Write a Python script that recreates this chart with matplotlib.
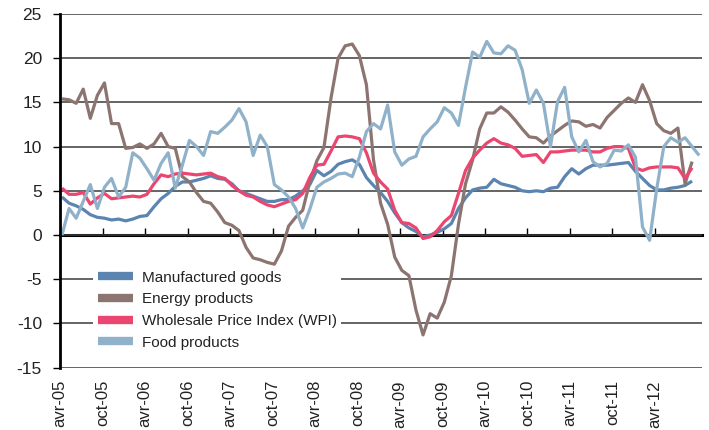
import numpy as np
import matplotlib
matplotlib.use("Agg")
import matplotlib.pyplot as plt

plt.rcParams['font.family'] = ['Liberation Sans', 'DejaVu Sans']
plt.rcParams['axes.unicode_minus'] = False

# month labels every 6 months starting April 2005
tick_labels = ["avr-05", "oct-05", "avr-06", "oct-06", "avr-07", "oct-07", "avr-08",
               "oct-08", "avr-09", "oct-09", "avr-10", "oct-10", "avr-11", "oct-11", "avr-12"]

# year-on-year change, %, monthly from avr-05
manufactured = [4.3, 3.6, 3.3, 2.9, 2.3, 2.0, 1.9, 1.7, 1.8, 1.6, 1.8, 2.1, 2.2, 3.2, 4.1, 4.7,
                5.5, 6.0, 6.0, 6.2, 6.4, 6.7, 6.4, 6.3, 5.8, 5.0, 4.7, 4.4, 4.1, 3.8, 3.8, 4.0,
                4.0, 4.4, 5.0, 5.7, 7.3, 6.7, 7.2, 8.0, 8.3, 8.5, 8.0, 6.5, 5.6, 4.8, 3.8, 2.5,
                1.4, 0.8, 0.4, -0.2, 0.0, 0.3, 0.7, 1.3, 3.0, 4.2, 5.1, 5.3, 5.4, 6.3, 5.8, 5.6,
                5.4, 5.0, 4.9, 5.0, 4.9, 5.3, 5.4, 6.6, 7.5, 6.9, 7.5, 7.9, 7.9, 7.9, 8.0, 8.1,
                8.2, 7.2, 6.4, 5.6, 5.1, 5.1, 5.3, 5.4, 5.6, 6.1]

energy = [15.4, 15.3, 14.9, 16.5, 13.2, 15.8, 17.2, 12.6, 12.6, 9.8, 9.9, 10.3, 9.8, 10.3, 11.5, 10.0,
          9.8, 6.6, 6.0, 4.8, 3.8, 3.6, 2.6, 1.4, 1.1, 0.5, -1.4, -2.6, -2.8, -3.1, -3.3, -1.8,
          1.0, 2.0, 2.8, 6.0, 8.4, 9.9, 15.5, 20.0, 21.4, 21.6, 20.3, 17.0, 8.5, 3.6, 1.2, -2.5,
          -4.0, -4.6, -8.5, -11.3, -8.9, -9.4, -7.6, -4.6, 1.2, 5.8, 8.5, 12.0, 13.8, 13.8, 14.5, 13.9,
          13.0, 12.0, 11.1, 11.0, 10.4, 11.2, 11.8, 12.4, 12.9, 12.8, 12.3, 12.5, 12.1, 13.3, 14.1, 14.9,
          15.5, 15.0, 17.0, 15.2, 12.6, 11.8, 11.5, 12.1, 5.8, 8.3]

wpi = [5.3, 4.6, 4.6, 4.8, 3.5, 4.2, 4.7, 4.1, 4.2, 4.3, 4.4, 4.3, 4.6, 5.8, 6.8, 6.6,
       6.9, 7.0, 6.9, 6.8, 6.9, 7.0, 6.6, 6.4, 5.6, 5.0, 4.5, 4.3, 3.8, 3.4, 3.2, 3.5,
       3.8, 4.0, 4.7, 6.5, 7.9, 8.0, 9.5, 11.1, 11.2, 11.1, 10.9, 9.3, 7.0, 6.0, 5.2, 2.8,
       1.4, 1.3, 0.8, -0.4, -0.2, 0.5, 1.5, 2.2, 4.7, 7.3, 8.7, 9.6, 10.4, 10.9, 10.4, 10.2,
       9.8, 8.9, 9.0, 9.1, 8.2, 9.4, 9.4, 9.5, 9.6, 9.6, 9.6, 9.4, 9.4, 9.8, 10.0, 10.0,
       9.8, 7.6, 7.3, 7.6, 7.7, 7.7, 7.7, 7.6, 6.4, 7.6]

food = [0.0, 3.0, 1.9, 3.8, 5.7, 3.0, 5.4, 6.4, 4.3, 5.4, 9.3, 8.7, 7.5, 6.2, 8.1, 9.3,
        5.3, 7.9, 10.7, 10.0, 9.0, 11.7, 11.5, 12.2, 13.0, 14.3, 12.8, 9.0, 11.3, 10.0, 5.7, 5.1,
        4.3, 3.0, 0.8, 2.9, 5.4, 6.0, 6.4, 6.9, 7.0, 6.6, 8.8, 11.7, 12.6, 12.0, 14.7, 9.4,
        7.9, 8.6, 8.9, 11.1, 12.0, 12.8, 14.4, 13.8, 12.4, 16.7, 20.7, 20.1, 21.9, 20.6, 20.5, 21.4,
        20.9, 18.7, 14.9, 16.4, 14.9, 10.0, 15.1, 16.7, 11.1, 9.4, 10.7, 8.3, 7.7, 8.1, 9.6, 9.5,
        10.2, 8.8, 0.9, -0.6, 5.2, 10.0, 11.0, 10.5, 11.0, 10.0, 9.0]

series = [
    ("Manufactured goods", manufactured, "#5b84b0"),
    ("Energy products", energy, "#8c7571"),
    ("Wholesale Price Index (WPI)", wpi, "#ea4670"),
    ("Food products", food, "#8fb1c9"),
]

fig = plt.figure(figsize=(7.09, 4.30), dpi=100)
ax = fig.add_axes([60 / 709, 1 - 367.6 / 430, 642 / 709, 353.6 / 430])

for name, vals, col in series:
    ax.plot(np.arange(len(vals)), vals, color=col, lw=2.3, label=name,
            solid_joinstyle='round', solid_capstyle='butt')

ax.set_xlim(-0.28, 90.4)
ax.set_ylim(-15, 25)
ax.set_yticks(np.arange(-15, 26, 5))
ax.grid(axis='y', color='#3a3a3a', lw=1.1)
ax.set_axisbelow(True)

for s in ['top', 'right', 'bottom']:
    ax.spines[s].set_visible(False)
ax.spines['left'].set_linewidth(2)
ax.tick_params(axis='y', direction='out', length=5, width=1, pad=8,
               labelsize=12.5, labelcolor='#222222')

tick_pos = np.arange(len(tick_labels)) * 6 - 0.25
ax.set_xticks(tick_pos)
ax.set_xticklabels(tick_labels, rotation=90, va='top', ha='center')
ax.tick_params(axis='x', length=0, pad=9, labelsize=12, labelcolor='#222222')

# horizontal axis line crosses at 0 with small tick marks
sec = ax.secondary_xaxis(15 / 40)
sec.set_xticks(tick_pos)
sec.tick_params(axis='x', direction='in', length=5, width=1, labeltop=False, labelbottom=False)
for s in sec.spines.values():
    s.set_linewidth(2.2)
    s.set_color('black')

leg = ax.legend(loc='upper left', bbox_to_anchor=(0.052, 0.287), frameon=True,
                facecolor='white', edgecolor='none', framealpha=1, fancybox=False,
                fontsize=11, handlelength=2.3, handletextpad=0.55, labelspacing=0.5,
                borderpad=0.3, borderaxespad=0)
for h in leg.get_lines():
    h.set_linewidth(6)
for t in leg.get_texts():
    t.set_color('#222222')

fig.savefig("out.png", dpi=100)
